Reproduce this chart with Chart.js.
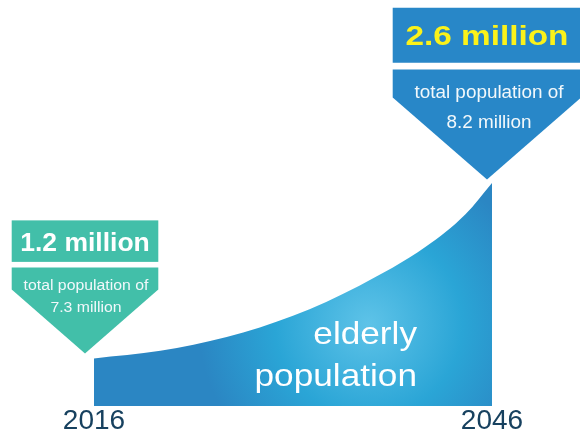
<!DOCTYPE html>
<html>
<head>
<meta charset="utf-8">
<script src="https://cdn.jsdelivr.net/npm/chart.js@4"></script>
<style>
  html, body { margin: 0; padding: 0; background: #ffffff; }
  #wrap { width: 580px; height: 440px; }
</style>
</head>
<body>
<div id="wrap"><canvas id="chart1"></canvas></div>
<script>
// elderly population, millions
const years = [2016, 2021, 2026, 2031, 2036, 2041, 2044, 2046];
const elderly = [1.2, 1.26, 1.37, 1.54, 1.78, 2.09, 2.35, 2.6];
const yearTicks = [2016, 2046];

const startLabel = ["1.2 million", "total population of", "7.3 million"];
const endLabel = ["2.6 million", "total population of", "8.2 million"];
const areaLabel = ["elderly", "population"];

const FONT = '"Liberation Sans", Arial, sans-serif';

// horizontally stretched text
function drawText(ctx, text, x, y, weight, size, sx) {
    ctx.save();
    ctx.translate(x, y);
    ctx.scale(sx, 1);
    ctx.font = weight + " " + size + "px " + FONT;
    ctx.fillText(text, 0, 0);
    ctx.restore();
}

// light spot in the middle of the area
function areaFill(context) {
    const area = context.chart.chartArea;
    if (!area) return "#2b8ac6";
    const cx = area.left + (area.right - area.left) * 0.69;
    const cy = area.bottom - 82;
    const g = context.chart.ctx.createRadialGradient(cx, cy, 0, cx, cy, 170);
    g.addColorStop(0, "#5ec3e8");
    g.addColorStop(0.55, "#2aa5d6");
    g.addColorStop(1, "#2b86c3");
    return g;
}

// box + arrow pointing at a data point
function callout(ctx, ax, ay, c) {
    ctx.save();
    ctx.fillStyle = c.color;
    ctx.fillRect(ax - c.half, ay - c.rectTop, c.half * 2, c.rectTop - c.rectBottom);
    ctx.beginPath();
    ctx.moveTo(ax - c.half, ay - c.arrowTop);
    ctx.lineTo(ax + c.half, ay - c.arrowTop);
    ctx.lineTo(ax + c.half, ay - c.shoulder);
    ctx.lineTo(ax, ay);
    ctx.lineTo(ax - c.half, ay - c.shoulder);
    ctx.closePath();
    ctx.fill();
    ctx.textAlign = "center";
    ctx.fillStyle = c.titleColor;
    drawText(ctx, c.lines[0], ax, ay - c.titleY, "bold", c.titleSize, c.titleSx);
    ctx.fillStyle = "#f2f8fb";
    drawText(ctx, c.lines[1], ax + c.dx, ay - c.line1Y, "normal", c.size, c.sx);
    drawText(ctx, c.lines[2], ax + c.dx, ay - c.line2Y, "normal", c.size, c.sx);
    ctx.restore();
}

const overlay = {
    id: "overlay",
    afterDatasetsDraw(chart) {
        const ctx = chart.ctx;
        const xs = chart.scales.x, ys = chart.scales.y;

        ctx.save();
        ctx.fillStyle = "#ffffff";
        ctx.textAlign = "right";
        drawText(ctx, areaLabel[0], 417, 344, "normal", 32, 1.1);
        drawText(ctx, areaLabel[1], 417, 386, "normal", 32, 1.1);
        ctx.restore();

        const p0x = xs.getPixelForValue(years[0]) - 9;
        const p0y = ys.getPixelForValue(elderly[0]) - 5;
        callout(ctx, p0x, p0y, {
            color: "#42bfa9", titleColor: "#ffffff", lines: startLabel,
            half: 73.3, rectTop: 133, rectBottom: 91.5, arrowTop: 86, shoulder: 64,
            titleY: 102, titleSize: 26.5, titleSx: 1.0,
            line1Y: 63.3, line2Y: 41.3, size: 15.5, sx: 1.02, dx: 1
        });

        const n = years.length - 1;
        const p1x = xs.getPixelForValue(years[n]) - 5;
        const p1y = ys.getPixelForValue(elderly[n]) - 3.5;
        callout(ctx, p1x, p1y, {
            color: "#2887c8", titleColor: "#fbf21a", lines: endLabel,
            half: 94.3, rectTop: 171.7, rectBottom: 116.7, arrowTop: 110, shoulder: 82,
            titleY: 134.3, titleSize: 28, titleSx: 1.19,
            line1Y: 81, line2Y: 51.7, size: 17.5, sx: 1.08, dx: 2
        });
    }
};

new Chart(document.getElementById("chart1"), {
    type: "line",
    data: {
        labels: years,
        datasets: [{
            data: years.map((yr, i) => ({ x: yr, y: elderly[i] })),
            fill: "start",
            backgroundColor: areaFill,
            borderWidth: 0,
            pointRadius: 0,
            cubicInterpolationMode: "monotone"
        }]
    },
    options: {
        responsive: true,
        maintainAspectRatio: false,
        animation: false,
        layout: { padding: { left: 94, right: 88, top: 0, bottom: 4 } },
        plugins: { legend: { display: false }, tooltip: { enabled: false } },
        scales: {
            x: {
                type: "linear",
                min: 2016,
                max: 2046,
                afterBuildTicks: (scale) => { scale.ticks = yearTicks.map(v => ({ value: v })); },
                grid: { display: false, drawTicks: false },
                border: { display: false },
                ticks: {
                    padding: 1,
                    color: "#17415f",
                    font: { family: FONT, size: 28, lineHeight: 1 },
                    maxRotation: 0,
                    autoSkip: false,
                    callback: (v) => String(v)
                }
            },
            y: {
                display: false,
                min: 0.82,
                max: 4.06
            }
        }
    },
    plugins: [overlay]
});
</script>
</body>
</html>
